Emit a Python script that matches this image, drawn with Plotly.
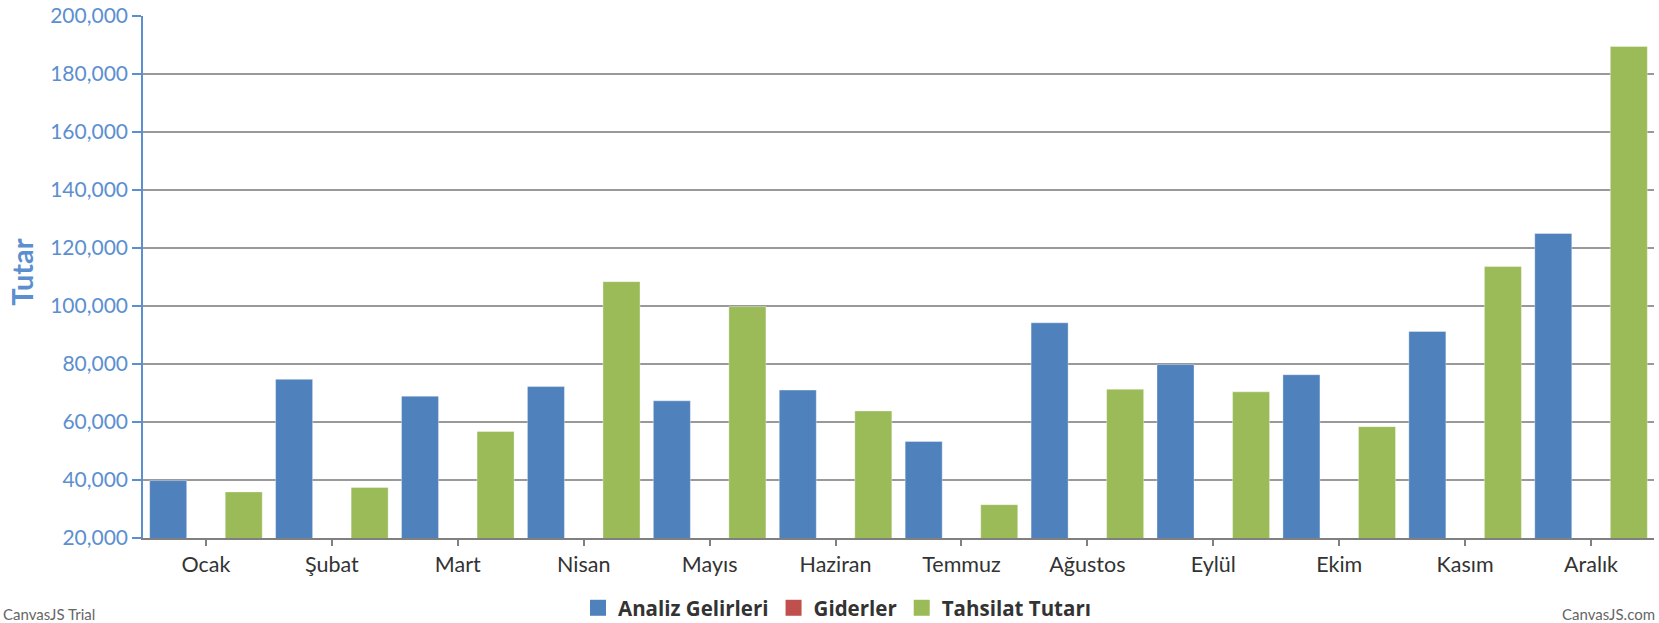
import plotly.graph_objects as go

months = ["Ocak", "Şubat", "Mart", "Nisan", "Mayıs", "Haziran", "Temmuz",
          "Ağustos", "Eylül", "Ekim", "Kasım", "Aralık"]
analiz_gelirleri = [39800, 74700, 68900, 72200, 67300, 71000, 53300,
                    94200, 79800, 76300, 91200, 125000]
giderler = [0, 0, 0, 0, 0, 0, 0, 0, 0, 0, 0, 0]
tahsilat_tutari = [35900, 37400, 56700, 108400, 99800, 63800, 31500,
                   71300, 70400, 58400, 113600, 189500]
series_names = ["Analiz Gelirleri", "Giderler", "Tahsilat Tutarı"]
series_colors = ["#4F81BC", "#C0504E", "#9BBB58"]
y_ticks = [20000, 40000, 60000, 80000, 100000, 120000, 140000, 160000, 180000, 200000]

FONT = "Lato, 'Open Sans', sans-serif"
L, R, T, B = 143, 5, 16, 85
PW = 1659 - L - R

fig = go.Figure()
for name, vals, col in zip(series_names, [analiz_gelirleri, giderler, tahsilat_tutari], series_colors):
    fig.add_trace(go.Bar(name=name, x=months, y=vals, showlegend=False,
                         marker=dict(color=col, line=dict(color="rgba(255,255,255,0.35)", width=1))))
# legend entries with larger square swatches
for name, col in zip(series_names, series_colors):
    fig.add_trace(go.Scatter(name=name, x=[None], y=[None], mode="markers",
                             marker=dict(symbol="square", size=18, color=col),
                             showlegend=True, hoverinfo="skip"))

fig.update_layout(
    width=1659, height=623,
    margin=dict(l=L, r=R, t=T, b=B, autoexpand=False),
    paper_bgcolor="white", plot_bgcolor="white",
    barmode="group", bargap=0.1, bargroupgap=0.02,
    font=dict(family=FONT, color="#333333"),
    showlegend=True,
    legend=dict(orientation="h", x=(837 - L) / PW, xanchor="center", y=-0.134, yanchor="middle",
                font=dict(size=20.5, color="#333333", family="'Open Sans', Lato, sans-serif", weight="bold"),
                itemsizing="trace", itemwidth=30, traceorder="normal"),
    xaxis=dict(showgrid=False, showline=True, linecolor="#808080", linewidth=1.5,
               ticks="outside", ticklen=6, tickcolor="#808080", tickwidth=1.5,
               automargin=False,
               tickfont=dict(size=21.5, color="#333333", family=FONT)),
    yaxis=dict(range=[20000, 200000], tickvals=y_ticks, tickformat=",d",
               showgrid=True, gridcolor="#999999", gridwidth=1.5,
               showline=True, linecolor="#5B8FD0", linewidth=1.5,
               ticks="outside", ticklen=9, tickcolor="#5B8FD0", tickwidth=1.5,
               automargin=False,
               tickfont=dict(size=21, color="#5B8FD0", family=FONT),
               zeroline=False),
    annotations=[
        dict(text="<b>Tutar</b>", xref="paper", yref="paper", x=(22 - L) / PW, y=0.51,
             xanchor="center", yanchor="middle", textangle=-90, showarrow=False,
             font=dict(size=29, color="#5B8FD0", family=FONT)),
        dict(text="CanvasJS Trial", xref="paper", yref="paper", x=(1 - L) / PW, y=-0.145,
             xanchor="left", yanchor="middle", showarrow=False,
             font=dict(size=15, color="#666666", family=FONT)),
        dict(text="CanvasJS.com", xref="paper", yref="paper", x=(1657 - L) / PW, y=-0.145,
             xanchor="right", yanchor="middle", showarrow=False,
             font=dict(size=15, color="#666666", family=FONT)),
    ],
)

fig.write_html("out.html", config={"displayModeBar": False},
               post_script="document.body.style.margin='0';document.body.style.overflow='hidden';")
